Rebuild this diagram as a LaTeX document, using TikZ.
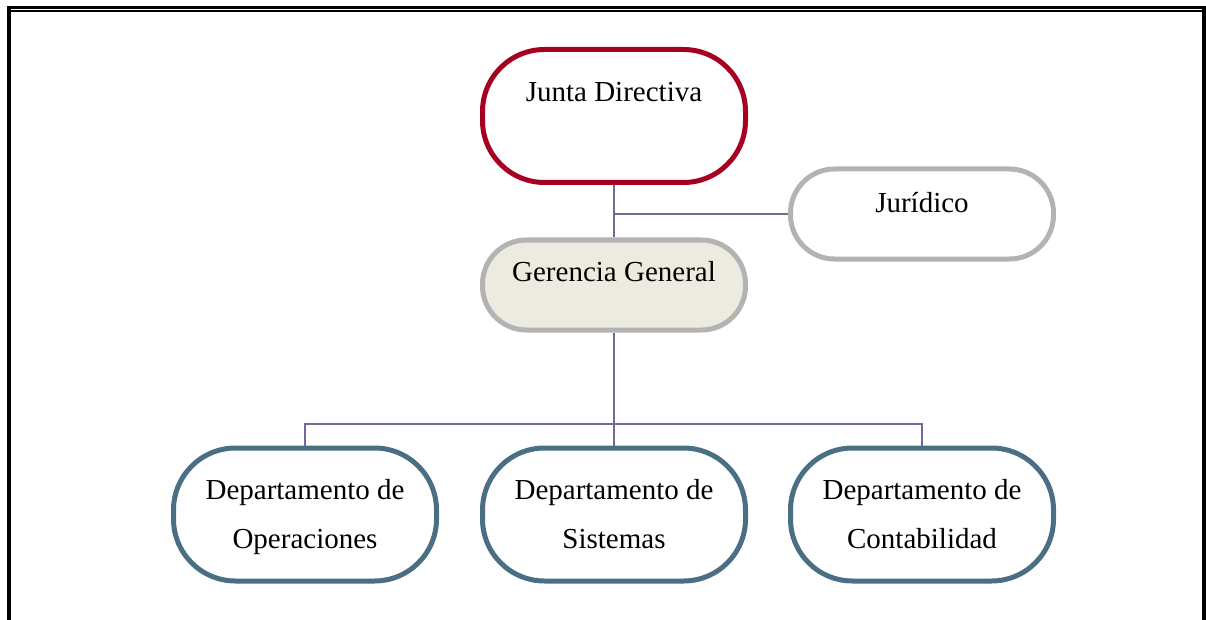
\documentclass[tikz,border=0pt]{standalone}
\usepackage{fontspec}
\setmainfont{Liberation Serif}
\definecolor{juntared}{HTML}{A50021}
\definecolor{grisborde}{HTML}{B3B3B3}
\definecolor{beige}{HTML}{EDEBE0}
\definecolor{depazul}{HTML}{4A6E84}
\definecolor{linea}{HTML}{6B6B9E}
\tikzset{
	caja/.style={draw, line width=5pt, rounded corners=62pt, align=center,
		minimum width=263pt, minimum height=133pt, inner sep=0pt,
		font=\fontsize{29}{49}\selectfont},
	cajabaja/.style={caja, minimum height=90pt, rounded corners=44pt},
	conn/.style={draw=linea, line width=2pt}
}
\begin{document}
\begin{tikzpicture}[x=1pt,y=-1pt]
				\useasboundingbox (0,0) rectangle (1206,620);
				
				% marco
				\draw[line width=3pt] (7,7.5) -- (1206,7.5);
				\draw[line width=1.5pt] (11,11) -- (1202,11);
				\draw[line width=4pt] (9,9) -- (9,620);
				\draw[line width=4pt] (1204,9) -- (1204,620);
				
				\node[caja, draw=juntared] (junta) at (614,116) {Junta Directiva\strut\\ \strut};
				\node[cajabaja, draw=grisborde] (juridico) at (922,214) {\raisebox{23pt}{Jurídico}};
				\node[cajabaja, draw=grisborde, fill=beige] (gerencia) at (614,285) {\raisebox{27pt}{Gerencia General}};
				
				\node[caja, draw=depazul] (oper) at (305,514.5) {Departamento de\strut\\ Operaciones\strut};
				\node[caja, draw=depazul] (sist) at (614,514.5) {Departamento de\strut\\ Sistemas\strut};
				\node[caja, draw=depazul] (cont) at (922,514.5) {Departamento de\strut\\ Contabilidad\strut};
				
				\coordinate (bar) at (614,424);
				
				\draw[conn] (junta) -- (gerencia);
				\draw[conn] (juridico) -- (juridico -| gerencia);
				\draw[conn] (gerencia) -- (bar) -- (sist);
				\draw[conn] (oper) |- (bar) -| (cont);
			\end{tikzpicture}
\end{document}
